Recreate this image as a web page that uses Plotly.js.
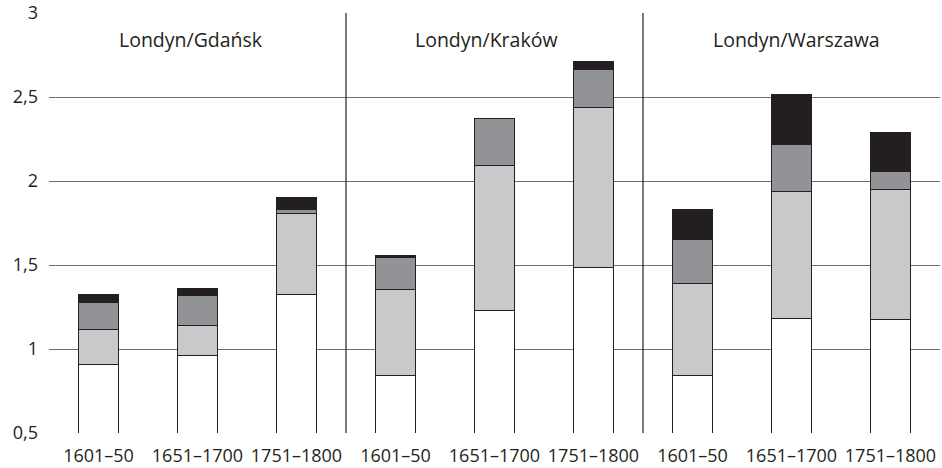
<!DOCTYPE html>
<html>
<head>
<meta charset="utf-8">
<script src="https://cdn.plot.ly/plotly-3.0.1.min.js"></script>
<style>html,body{margin:0;padding:0;background:#fff;}#chart{width:942px;height:468px;}</style>
</head>
<body>
<div id="chart"></div>
<script>
// Categories (periods), repeated for each city pair
const periods = ["1601–50", "1651–1700", "1751–1800", "1601–50", "1651–1700", "1751–1800", "1601–50", "1651–1700", "1751–1800"];
const groups = ["Londyn/Gdańsk", "Londyn/Kraków", "Londyn/Warszawa"];
// Stacked segment values (bottom to top)
const seg1 = [0.907, 0.962, 1.326, 0.842, 1.230, 1.488, 0.843, 1.179, 1.175];
const seg2 = [0.212, 0.177, 0.480, 0.515, 0.862, 0.949, 0.548, 0.760, 0.776];
const seg3 = [0.159, 0.179, 0.027, 0.187, 0.279, 0.228, 0.260, 0.281, 0.107];
const seg4 = [0.046, 0.043, 0.066, 0.014, 0.000, 0.048, 0.179, 0.296, 0.228];
const yTicks = [0.5, 1, 1.5, 2, 2.5, 3];

const xs = periods.map((_, i) => i);
const fills = ["#ffffff", "#c8c9cb", "#929396", "#231f20"];
const segs = [seg1, seg2, seg3, seg4];
const traces = segs.map((s, k) => ({
  type: "bar",
  x: xs,
  y: s,
  width: 0.4,
  marker: {color: fills[k], line: {color: "#231f20", width: 1}},
  hoverinfo: "skip",
  showlegend: false
}));

const font = "Open Sans, Noto Sans, sans-serif";
const groupX = [0.93, 3.92, 7.05];
const layout = {
  width: 942, height: 468,
  margin: {l: 49, r: 2, t: 13, b: 35},
  barmode: "stack",
  separators: ",.",
  paper_bgcolor: "#fff",
  plot_bgcolor: "#fff",
  font: {family: font, size: 18, color: "#231f20"},
  xaxis: {
    range: [-0.5, 8.5],
    tickvals: xs,
    ticktext: periods,
    showgrid: false,
    zeroline: false,
    showline: false,
    ticks: "",
    ticklabelstandoff: 10,
    ticklabeloverflow: "allow",
    tickfont: {family: font, size: 18, color: "#231f20"}
  },
  yaxis: {
    range: [0.5, 3],
    tickvals: yTicks,
    showgrid: true,
    gridcolor: "#6d6e71",
    gridwidth: 1,
    zeroline: false,
    showline: false,
    ticks: "",
    ticklabelstandoff: 10,
    ticklabeloverflow: "allow",
    tickfont: {family: font, size: 18, color: "#231f20"}
  },
  shapes: [2.5, 5.5].map(v => ({
    type: "line", xref: "x", yref: "y", x0: v, x1: v, y0: 0.5, y1: 3,
    line: {color: "#231f20", width: 1.2}, layer: "above"
  })),
  annotations: groups.map((g, i) => ({
    text: g, xref: "x", yref: "paper", x: groupX[i], y: 0.938,
    showarrow: false, xanchor: "center", yanchor: "middle",
    font: {family: font, size: 19.5, color: "#231f20"}
  }))
};

Plotly.newPlot("chart", traces, layout, {staticPlot: true});
</script>
</body>
</html>
